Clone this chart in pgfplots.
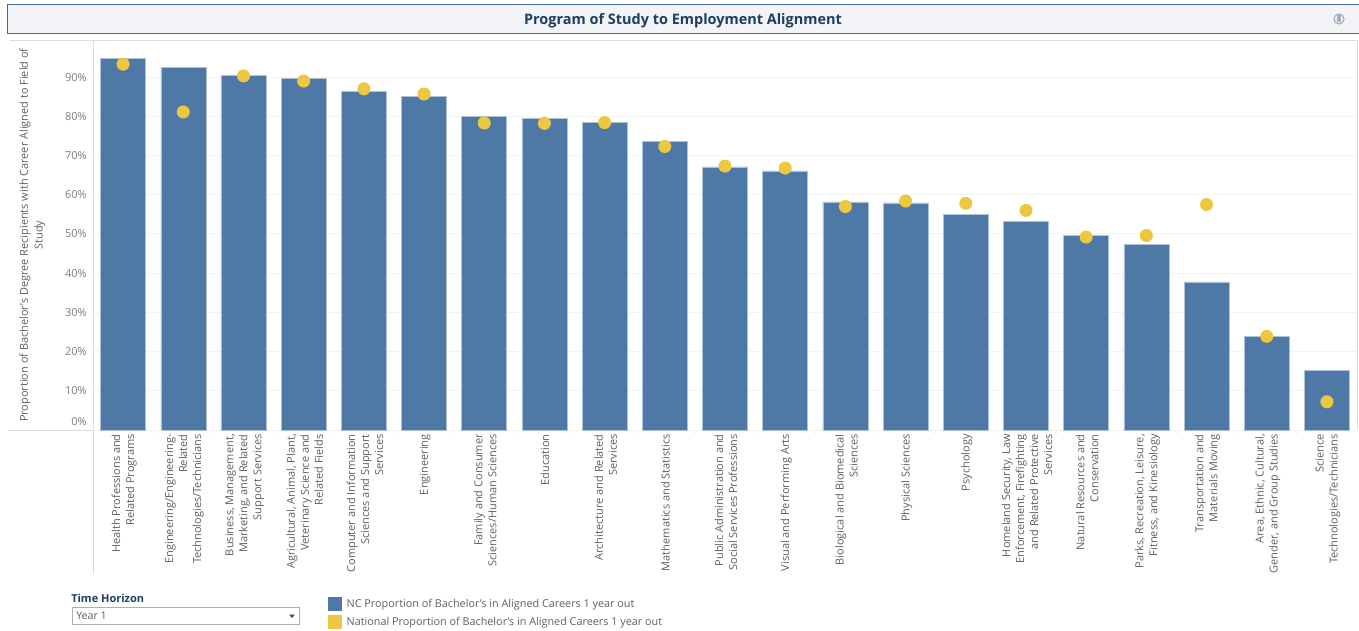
\documentclass[border=0pt]{standalone}
\usepackage{pgfplots}
\pgfplotsset{compat=1.18}
\usepackage{fontspec}
\setmainfont{Open Sans}
\definecolor{barblue}{HTML}{4E79A7}
\definecolor{dotyellow}{HTML}{EDC73F}
\definecolor{navy}{HTML}{1D3F60}
\definecolor{bandedge}{HTML}{44688C}
\definecolor{band}{HTML}{F3F4F7}
\definecolor{rulegray}{HTML}{DCDCDC}
\definecolor{gridgray}{HTML}{F3F3F3}
\definecolor{ticktext}{HTML}{7F7F7F}
\definecolor{labtext}{HTML}{5F5F5F}
\definecolor{icongray}{HTML}{A3B1C2}
\pgfplotstableread{
x nc national
0 94.85 93.3
1 92.4 81.1
2 90.4 90.3
3 89.7 89.0
4 86.4 87.0
5 85.0 85.7
6 79.95 78.3
7 79.4 78.2
8 78.5 78.4
9 73.7 72.3
10 67.1 67.3
11 66.1 66.8
12 58.2 57.0
13 57.9 58.4
14 55.0 57.8
15 53.2 56.0
16 49.6 49.2
17 47.3 49.6
18 37.8 57.5
19 23.8 23.9
20 15.2 7.2
}\datatable
\newcommand{\sgl}[1]{\raisebox{0.8pt}{#1}}
\begin{document}
\begin{tikzpicture}
\begin{scope}[x=0.75pt,y=-0.75pt]
\path[use as bounding box,fill=white] (0,0) rectangle (1359,631);
% title band
\fill[band] (7,5) rectangle (1359,34);
\draw[bandedge,line width=0.75pt] (7,34) -- (7,5) -- (1359,5);
\draw[bandedge,line width=0.75pt] (7,34) -- (1359,34);
\node[font=\bfseries\fontsize{10.85pt}{13pt}\selectfont,text=navy] at (683,21) {Program of Study to Employment Alignment};
\draw[icongray,line width=0.9pt] (1339,19) circle (5);
\fill[icongray] (1337.3,15.5) rectangle (1340.7,22.5);
% frame lines
\draw[rulegray,line width=0.75pt] (10,41) -- (1357,41) -- (1357,430);
\draw[rulegray,line width=0.75pt] (93,41) -- (93,574);
\draw[rulegray,line width=0.75pt] (8,430) -- (1357,430);
\end{scope}
\begin{axis}[
  at={(69.75pt,-322.5pt)},anchor=south west,
  scale only axis,width=948pt,height=291.75pt,
  xmin=-0.5,xmax=20.5,ymin=0,ymax=99.2,
  axis line style={draw=none},
  major tick length=0pt,
  minor x tick num=0,
  minor xtick={0.5,1.5,2.5,3.5,4.5,5.5,6.5,7.5,8.5,9.5,10.5,11.5,12.5,13.5,14.5,15.5,16.5,17.5,18.5,19.5},
  minor tick length=3pt,
  tick align=outside,
  tick pos=left,
  minor tick style={rulegray!45,line width=0.6pt},
  ymajorgrids,
  grid style={gridgray,line width=0.75pt},
  ytick={10,20,30,40,50,60,70,80,90},
  yticklabels={10\%,20\%,30\%,40\%,50\%,60\%,70\%,80\%,90\%},
  extra y ticks={0},
  extra y tick labels={0\%},
  extra y tick style={yticklabel style={yshift=6pt}},
  yticklabel style={font=\fontsize{8.25pt}{10pt}\selectfont,text=ticktext,inner xsep=0pt,xshift=-4.5pt},
  xtick=data,
  xticklabels={
    {Health Professions and\\Related Programs},
    {Engineering/Engineering-\\Related\\Technologies/Technicians},
    {Business, Management,\\Marketing, and Related\\Support Services},
    {Agricultural, Animal, Plant,\\Veterinary Science and\\Related Fields},
    {Computer and Information\\Sciences and Support\\Services},
    {\sgl{Engineering}},
    {Family and Consumer\\Sciences/Human Sciences},
    {\sgl{Education}},
    {Architecture and Related\\Services},
    {\sgl{Mathematics and Statistics}},
    {Public Administration and\\Social Services Professions},
    {\sgl{Visual and Performing Arts}},
    {Biological and Biomedical\\Sciences},
    {\sgl{Physical Sciences}},
    {\sgl{Psychology}},
    {Homeland Security, Law\\Enforcement, Firefighting\\and Related Protective\\Services},
    {Natural Resources and\\Conservation},
    {Parks, Recreation, Leisure,\\Fitness, and Kinesiology},
    {Transportation and\\Materials Moving},
    {Area, Ethnic, Cultural,\\Gender, and Group Studies},
    {Science\\Technologies/Technicians}},
  xticklabel style={rotate=90,anchor=east,align=right,font=\fontsize{8.25pt}{10.5pt}\selectfont,text=labtext,inner sep=0pt,yshift=-0.8pt,xshift=-3pt},
  ylabel={Proportion of Bachelor's Degree Recipients with Career Aligned to Field of\\Study},
  every axis y label/.style={at={(axis description cs:-0.048,0.501)},rotate=90,anchor=center,align=center,font=\fontsize{8.2pt}{11pt}\selectfont,text=labtext},
  clip=false,
  legend style={at={(axis description cs:0.186,-0.43)},anchor=north west,draw=none,fill=none,
    font=\fontsize{8.12pt}{10pt}\selectfont,text=labtext,inner sep=0pt,outer sep=0pt,
    row sep=3.2pt,nodes={inner sep=0pt,anchor=west},/tikz/every even column/.append style={column sep=0pt}},
  legend cell align=left,
]
\addplot[ybar,bar width=33.75pt,bar shift=0pt,fill=barblue,draw=barblue!45!white,line width=0.4pt,
  legend image code/.code={\fill[barblue] (0pt,-4.9pt) rectangle (9.8pt,4.9pt);\path (13.5pt,0pt);}]
  table[x=x,y=nc]{\datatable};
\addlegendentry{NC Proportion of Bachelor's in Aligned Careers 1 year out}
\addplot[only marks,mark=*,mark size=4.9pt,mark options={fill=dotyellow,draw opacity=0},
  legend image code/.code={\fill[dotyellow] (0pt,-4.9pt) rectangle (9.8pt,4.9pt);\path (13.5pt,0pt);}]
  table[x=x,y=national]{\datatable};
\addlegendentry{National Proportion of Bachelor's in Aligned Careers 1 year out}
\end{axis}
% filter control
\begin{scope}[x=0.75pt,y=-0.75pt]
\node[anchor=west,inner sep=0pt,font=\bfseries\fontsize{8.25pt}{10pt}\selectfont,text=navy] at (71,598) {Time Horizon};
\draw[fill=white,draw=rulegray!80!black,line width=0.6pt] (72,607) rectangle (299,624);
\node[anchor=west,inner sep=0pt,font=\fontsize{8pt}{10pt}\selectfont,text=labtext] at (76,616) {Year 1};
\fill[black!70] (289,614.5) -- (295,614.5) -- (292,618) -- cycle;
\end{scope}
\end{tikzpicture}
\end{document}
